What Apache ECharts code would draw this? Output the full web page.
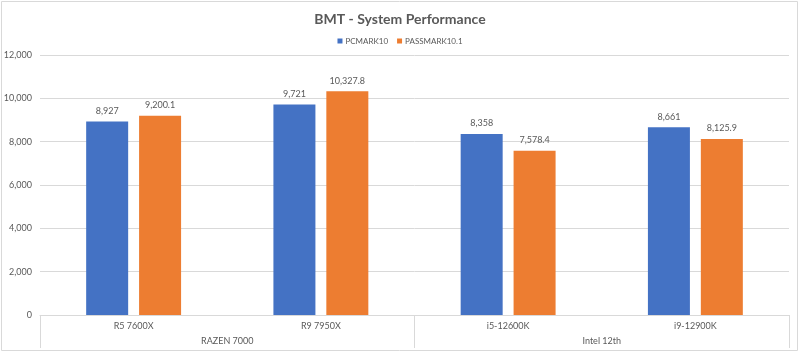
<!DOCTYPE html>
<html><head><meta charset="utf-8">
<script src="https://cdn.jsdelivr.net/npm/echarts@6/dist/echarts.min.js"></script>
<style>html,body{margin:0;padding:0;background:#fff}#c{width:800px;height:353px}</style>
</head><body><div id="c"></div>
<script>
const categories = ['R5 7600X', 'R9 7950X', 'i5-12600K', 'i9-12900K'];
const groups = ['RAZEN 7000', 'Intel 12th'];
const pcmark10 = [8927, 9721, 8358, 8661];
const passmark = [9200.1, 10327.8, 7578.4, 8125.9];
const yTicks = { min: 0, max: 12000, interval: 2000 };

const font = 'Lato, "Open Sans", sans-serif';
const gray = '#595959';
const chart = echarts.init(document.getElementById('c'));
const fmt = (v, d) => v.toLocaleString('en-US', { minimumFractionDigits: d, maximumFractionDigits: d });
chart.setOption({
  animation: false,
  textStyle: { fontFamily: font },
  title: { text: 'BMT - System Performance', left: 'center', top: 7,
    textStyle: { fontSize: 14, fontWeight: 'bold', color: gray, fontFamily: font } },
  legend: { top: 32, left: 'center', itemWidth: 5, itemHeight: 5, itemGap: 9,
    textStyle: { fontSize: 8, color: gray, fontFamily: font, padding: [0, 0, 0, -2] },
    data: [{ name: 'PCMARK10', icon: 'rect' }, { name: 'PASSMARK10.1', icon: 'rect' }] },
  graphic: [{ type: 'rect', shape: { x: 1.5, y: 1.5, width: 796, height: 349 },
    style: { fill: 'none', stroke: '#d9d9d9', lineWidth: 1 }, silent: true }],
  grid: { left: 40, right: 11, top: 55, bottom: 38 },
  xAxis: [
    { type: 'category', data: categories, position: 'bottom',
      axisLine: { lineStyle: { color: '#d9d9d9' } }, axisTick: { show: false },
      axisLabel: { color: gray, fontSize: 9, margin: 7, fontFamily: font } },
    { type: 'category', data: groups, position: 'bottom', offset: 0,
      axisLine: { show: false },
      axisTick: { show: true, length: 33, lineStyle: { color: '#d9d9d9' } },
      axisLabel: { color: gray, fontSize: 9, margin: 22, fontFamily: font } }
  ],
  yAxis: { type: 'value', min: yTicks.min, max: yTicks.max, interval: yTicks.interval,
    axisLine: { show: false }, axisTick: { show: false },
    splitLine: { lineStyle: { color: '#d9d9d9' } },
    axisLabel: { color: gray, fontSize: 9, margin: 8, fontFamily: font,
      formatter: v => fmt(v, 0) } },
  series: [
    { name: 'PCMARK10', type: 'bar', data: pcmark10, barWidth: 42, barGap: '26%',
      itemStyle: { color: '#4472C4' },
      label: { show: true, position: 'top', distance: 6, color: gray, fontSize: 9, fontFamily: font,
        formatter: p => fmt(p.value, 0) } },
    { name: 'PASSMARK10.1', type: 'bar', data: passmark, barWidth: 42, barGap: '26%',
      itemStyle: { color: '#ED7D31' },
      label: { show: true, position: 'top', distance: 6, color: gray, fontSize: 9, fontFamily: font,
        formatter: p => fmt(p.value, 1) } }
  ]
});
</script></body></html>
